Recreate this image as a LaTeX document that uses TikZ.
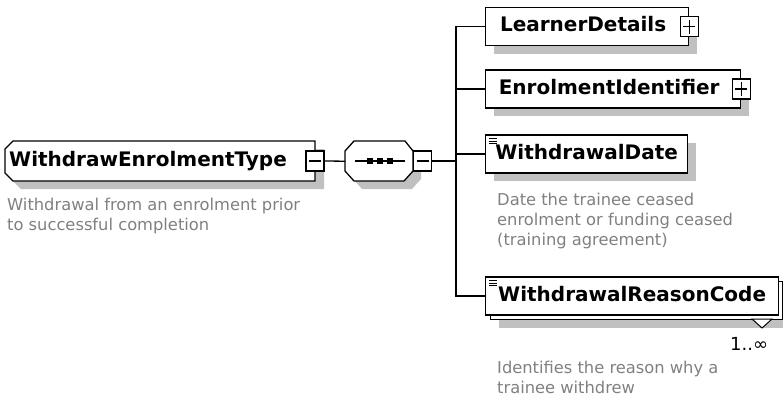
\documentclass[tikz,border=0pt]{standalone}
\usepackage{fontspec}
\setmainfont{DejaVu Sans}
\usetikzlibrary{shadows}
\definecolor{shadowgray}{RGB}{192,192,192}
\definecolor{descgray}{RGB}{128,128,128}
\begin{document}
\begin{tikzpicture}[x=1pt,y=-1pt,
  lw/.style={line width=1.3pt},
  boxfont/.style={font=\bfseries\fontsize{20}{22}\selectfont},
  elembase/.style={draw, fill=white, line width=1.3pt, anchor=west, minimum height=38pt,
     inner sep=0pt, text height=14.5pt, text depth=4pt, boxfont},
  elem/.style={elembase,
     drop shadow={shadow xshift=8pt, shadow yshift=-8pt, fill=shadowgray, opacity=1}},
  btn/.style={draw, fill=white, line width=1.1pt, minimum width=18pt, minimum height=20pt, inner sep=0pt},
  minusbtn/.style={btn, path picture={\draw[line width=1.1pt]
      ([xshift=3pt]path picture bounding box.west) -- ([xshift=-3pt]path picture bounding box.east);}},
  plusbtn/.style={btn, path picture={\draw[line width=1.1pt]
      ([xshift=3pt]path picture bounding box.west) -- ([xshift=-3pt]path picture bounding box.east)
      ([yshift=-3pt]path picture bounding box.north) -- ([yshift=3pt]path picture bounding box.south);}},
  descr/.style={anchor=north west, align=left, text=descgray, inner sep=0pt,
     font=\fontsize{16.3}{20}\selectfont},
  simpleicon/.style={line width=0.8pt}
]
\useasboundingbox (0,0) rectangle (783,400);

% ---------- main complex type box ----------
\fill[shadowgray] (21,149) -- (324,149) -- (324,189) -- (21,189) -- (13,181) -- (13,157) -- cycle;
\draw[lw, fill=white] (13,141) -- (315,141) -- (315,181) -- (13,181) -- (5,173) -- (5,149) -- cycle;
\node[anchor=west, inner sep=0pt, text height=14.5pt, text depth=4pt, boxfont] (wet) at (9,161.5) {WithdrawEnrolmentType};
\node[minusbtn] (wetbtn) at (315,161) {};
\node[descr] (wetdesc) at (7,197.6) {Withdrawal from an enrolment prior\\to successful completion};

% ---------- sequence compositor ----------
\fill[shadowgray] (362,149) -- (413,149) -- (421,159) -- (421,179) -- (412,189) -- (362,189) -- (353,179) -- (353,159) -- cycle;
\draw[lw, fill=white] (354,141) -- (405,141) -- (413,151) -- (413,171) -- (404,181) -- (354,181) -- (345,171) -- (345,151) -- cycle;
\node[minimum width=68pt, minimum height=40pt, anchor=north west, inner sep=0pt] (seq) at (345,141) {};
\draw[line width=1.1pt] (355,161) -- (405,161);
\fill (367,158.2) rectangle +(5.6,5.6);
\fill (377,158.2) rectangle +(5.6,5.6);
\fill (387,158.2) rectangle +(5.6,5.6);
\node[minusbtn, anchor=west] (seqbtn) at (413,161) {};

\draw[lw] (wetbtn.east) -- (seq.west);
\coordinate (bus) at (456,161);
\draw[lw] (seqbtn.east) -- (bus);

% ---------- child elements ----------
\node[elem, minimum width=203pt] (ld) at (485,26.5) {LearnerDetails\hspace*{8pt}};
\node[plusbtn] (ldbtn) at (ld.east) {};

\node[elem, minimum width=255pt] (ei) at (485,89) {EnrolmentIdentifier\hspace*{8pt}};
\node[plusbtn] (eibtn) at (ei.east) {};

\node[elem, minimum width=202pt] (wd) at (485,154) {WithdrawalDate};
\draw[simpleicon] (489,138.5) -- (497,138.5) (489,141) -- (497,141) (489,143.5) -- (497,143.5);
\node[descr] (wddesc) at (497,192.6) {Date the trainee ceased\\enrolment or funding ceased\\(training agreement)};

\node[elem, minimum width=292pt] (wrcback) at (490,300.5) {};
\draw[line width=1pt, fill=white] (752,319) -- (772,319) -- (762,328) -- cycle;
\node[elembase, minimum width=293pt] (wrc) at (485,296) {WithdrawalReasonCode};
\draw[simpleicon] (489,280.5) -- (497,280.5) (489,283) -- (497,283) (489,285.5) -- (497,285.5);
\node[anchor=base west, inner sep=0pt, font=\fontsize{18}{20}\selectfont] (card) at (730,350) {1..∞};
\node[descr] (wrcdesc) at (497,360.6) {Identifies the reason why a\\trainee withdrew};

% ---------- connectors ----------
\draw[lw] (bus) |- (ld.west);
\draw[lw] (bus) |- (ei.west);
\draw[lw] (bus) |- (wd.west);
\draw[lw] (bus) |- (wrc.west);
\end{tikzpicture}
\end{document}
